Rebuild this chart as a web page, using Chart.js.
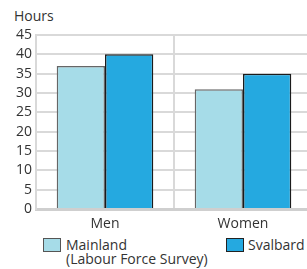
<!DOCTYPE html>
<html>
<head>
<meta charset="utf-8">
<script src="https://cdn.jsdelivr.net/npm/chart.js@4.4.0/dist/chart.umd.min.js"></script>
<style>
  html, body { margin: 0; padding: 0; background: #fff; overflow: hidden; }
  body { width: 307px; height: 269px; position: relative; font-family: "Open Sans", sans-serif; color: #333; }
  #wrap { position: absolute; left: 0; top: 0; width: 312px; height: 232px; }
  .unit { position: absolute; left: 14px; top: 6px; font-size: 14px; }
  .leg { position: absolute; font-size: 14px; line-height: 14px; }
  .box { position: absolute; width: 16px; height: 12px; border: 1px solid #444; }
</style>
</head>
<body>
<div class="unit">Hours</div>
<div id="wrap"><canvas id="chart" width="312" height="232"></canvas></div>
<div class="box" style="left:43px;top:238px;background:#a6dce8;border-color:#555"></div>
<div class="leg" style="left:66px;top:238px">Mainland<br>(Labour Force Survey)</div>
<div class="box" style="left:226px;top:238px;background:#25a9e0;border-color:#222"></div>
<div class="leg" style="left:248px;top:238px">Svalbard</div>
<script>
// ── Data ──────────────────────────────────────────────────────────────────────
const CATEGORIES = ["Men", "Women"];
const MAINLAND   = [37, 31];
const SVALBARD   = [40, 35];
const Y_TICKS    = [0, 5, 10, 15, 20, 25, 30, 35, 40, 45];

const GRID = "#d9d9d9";
const FONT = { family: "Open Sans", size: 14 };

new Chart(document.getElementById("chart"), {
  type: "bar",
  data: {
    labels: CATEGORIES,
    datasets: [
      { label: "Mainland (Labour Force Survey)", data: MAINLAND,
        backgroundColor: "#a6dce8", borderColor: "#666", borderWidth: 1.5 },
      { label: "Svalbard", data: SVALBARD,
        backgroundColor: "#25a9e0", borderColor: "#1b1b1b", borderWidth: 1.5 },
    ],
  },
  options: {
    responsive: false,
    animation: false,
    layout: { padding: { top: 35, right: 0, left: 0, bottom: 0 } },
    plugins: { legend: { display: false }, tooltip: { enabled: false } },
    datasets: { bar: { categoryPercentage: 0.7, barPercentage: 1 } },
    scales: {
      x: {
        grid: { color: GRID, lineWidth: 2, offset: true, drawTicks: false },
        border: { color: "#cfcfcf", width: 3 },
        ticks: { color: "#333", font: FONT, padding: 7 },
        afterFit: s => { s.height = 23; },
      },
      y: {
        min: 0, max: 45,
        afterBuildTicks: s => { s.ticks = Y_TICKS.map(v => ({ value: v })); },
        grid: { color: GRID, lineWidth: 2, drawTicks: false },
        border: { color: GRID, width: 2 },
        ticks: { color: "#333", font: FONT, padding: 4, autoSkip: false },
        afterFit: s => { s.width = 36; },
      },
    },
  },
});
</script>
</body>
</html>
